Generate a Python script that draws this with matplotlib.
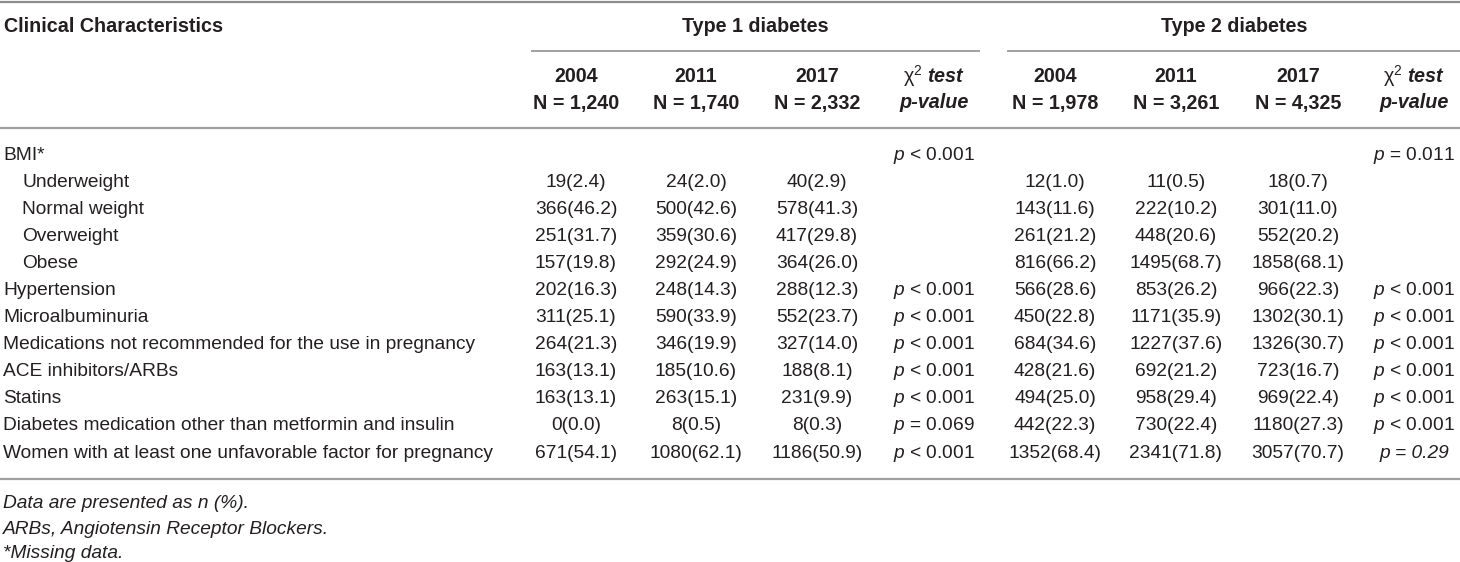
import matplotlib
matplotlib.use("Agg")
import matplotlib.pyplot as plt

plt.rcParams['font.family'] = ['Liberation Sans', 'DejaVu Sans']
plt.rcParams['mathtext.fontset'] = 'custom'
plt.rcParams['mathtext.rm'] = 'Liberation Sans'
plt.rcParams['mathtext.it'] = 'Liberation Sans:italic'
plt.rcParams['mathtext.bf'] = 'Liberation Sans:bold'
plt.rcParams['mathtext.bfit'] = 'Liberation Sans:bold:italic'

# table content
groups = ["Type 1 diabetes", "Type 2 diabetes"]
years = ["2004", "2011", "2017"]
n_t1 = ["N = 1,240", "N = 1,740", "N = 2,332"]
n_t2 = ["N = 1,978", "N = 3,261", "N = 4,325"]

row_labels = [
    "BMI*", "Underweight", "Normal weight", "Overweight", "Obese",
    "Hypertension", "Microalbuminuria",
    "Medications not recommended for the use in pregnancy",
    "ACE inhibitors/ARBs", "Statins",
    "Diabetes medication other than metformin and insulin",
    "Women with at least one unfavorable factor for pregnancy",
]
indented = [False, True, True, True, True, False, False, False, False, False, False, False]

t1_values = [
    ["", "", ""],
    ["19(2.4)", "24(2.0)", "40(2.9)"],
    ["366(46.2)", "500(42.6)", "578(41.3)"],
    ["251(31.7)", "359(30.6)", "417(29.8)"],
    ["157(19.8)", "292(24.9)", "364(26.0)"],
    ["202(16.3)", "248(14.3)", "288(12.3)"],
    ["311(25.1)", "590(33.9)", "552(23.7)"],
    ["264(21.3)", "346(19.9)", "327(14.0)"],
    ["163(13.1)", "185(10.6)", "188(8.1)"],
    ["163(13.1)", "263(15.1)", "231(9.9)"],
    ["0(0.0)", "8(0.5)", "8(0.3)"],
    ["671(54.1)", "1080(62.1)", "1186(50.9)"],
]
t1_p = ["< 0.001", "", "", "", "", "< 0.001", "< 0.001", "< 0.001",
        "< 0.001", "< 0.001", "= 0.069", "< 0.001"]

t2_values = [
    ["", "", ""],
    ["12(1.0)", "11(0.5)", "18(0.7)"],
    ["143(11.6)", "222(10.2)", "301(11.0)"],
    ["261(21.2)", "448(20.6)", "552(20.2)"],
    ["816(66.2)", "1495(68.7)", "1858(68.1)"],
    ["566(28.6)", "853(26.2)", "966(22.3)"],
    ["450(22.8)", "1171(35.9)", "1302(30.1)"],
    ["684(34.6)", "1227(37.6)", "1326(30.7)"],
    ["428(21.6)", "692(21.2)", "723(16.7)"],
    ["494(25.0)", "958(29.4)", "969(22.4)"],
    ["442(22.3)", "730(22.4)", "1180(27.3)"],
    ["1352(68.4)", "2341(71.8)", "3057(70.7)"],
]
t2_p = ["= 0.011", "", "", "", "", "< 0.001", "< 0.001", "< 0.001",
        "< 0.001", "< 0.001", "< 0.001", "= 0.29"]
t2_p_all_italic = [False] * 11 + [True]

footnotes = ["Data are presented as n (%).",
             "ARBs, Angiotensin Receptor Blockers.",
             "*Missing data."]

# layout (pixels)
W, H = 1460, 562
t1_cols = [576, 696, 817, 934]
t2_cols = [1055, 1176, 1298, 1414]
row_y0, row_dy = 155, 27.1
txt = '#231f20'
line_c = '#a0a0a0'
fs = 13.8
fs_b = 14.2

fig = plt.figure(figsize=(W / 100, H / 100), dpi=100)
ax = fig.add_axes([0, 0, 1, 1])
ax.set_xlim(0, W)
ax.set_ylim(H, 0)
ax.axis('off')

# rules
ax.plot([0, W], [1.5, 1.5], color='#8c8c8c', lw=1.6)
ax.plot([532, 979], [51, 51], color=line_c, lw=1.4)
ax.plot([1008, W], [51, 51], color=line_c, lw=1.4)
ax.plot([0, W], [128, 128], color=line_c, lw=1.6)
ax.plot([0, W], [479, 479], color=line_c, lw=1.6)

# header
ax.text(4, 26, "Clinical Characteristics", fontsize=fs_b, fontweight='bold',
        color=txt, va='center', ha='left')
ax.text((532 + 979) / 2, 26, groups[0], fontsize=fs_b, fontweight='bold',
        color=txt, va='center', ha='center')
ax.text((1008 + W) / 2, 26, groups[1], fontsize=fs_b, fontweight='bold',
        color=txt, va='center', ha='center')

for cols, ns in [(t1_cols, n_t1), (t2_cols, n_t2)]:
    for x, yr, n in zip(cols[:3], years, ns):
        ax.text(x, 76, yr, fontsize=fs_b, fontweight='bold', color=txt,
                va='center', ha='center')
        ax.text(x, 103, n, fontsize=fs_b, fontweight='bold', color=txt,
                va='center', ha='center')
    ax.text(cols[3], 76, r"$\mathrm{\chi}^{2}\ \mathbfit{test}$", fontsize=fs_b,
            color=txt, va='center', ha='center')
    ax.text(cols[3], 103, "p-value", fontsize=fs_b, fontweight='bold',
            fontstyle='italic', color=txt, va='center', ha='center')

# body
for i, label in enumerate(row_labels):
    y = row_y0 + i * row_dy
    ax.text(22 if indented[i] else 3, y, label, fontsize=fs, color=txt,
            va='center', ha='left')
    for x, v in zip(t1_cols[:3], t1_values[i]):
        ax.text(x, y, v, fontsize=fs, color=txt, va='center', ha='center')
    for x, v in zip(t2_cols[:3], t2_values[i]):
        ax.text(x, y, v, fontsize=fs, color=txt, va='center', ha='center')
    if t1_p[i]:
        ax.text(t1_cols[3], y, r"$\mathit{p}$ " + t1_p[i], fontsize=fs,
                color=txt, va='center', ha='center')
    if t2_p[i]:
        if t2_p_all_italic[i]:
            ax.text(t2_cols[3], y, "p " + t2_p[i], fontsize=fs, color=txt,
                    fontstyle='italic', va='center', ha='center')
        else:
            ax.text(t2_cols[3], y, r"$\mathit{p}$ " + t2_p[i], fontsize=fs,
                    color=txt, va='center', ha='center')

for k, note in enumerate(footnotes):
    ax.text(3, 504 + k * 25, note, fontsize=fs, fontstyle='italic',
            color=txt, va='center', ha='left')

fig.savefig("out.png", dpi=100)
